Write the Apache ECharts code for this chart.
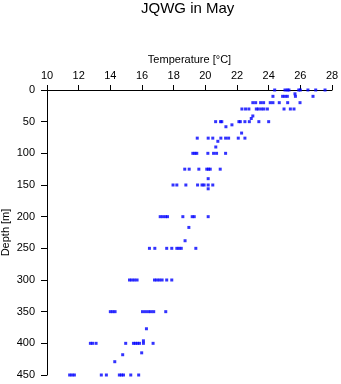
<!DOCTYPE html>
<html>
<head>
<meta charset="utf-8">
<script src="https://cdn.jsdelivr.net/npm/echarts@6/dist/echarts.min.js"></script>
<style>
  html, body { margin: 0; padding: 0; background: #fff; }
  #chart { width: 341px; height: 384px; }
</style>
</head>
<body>
<div id="chart"></div>
<script>
const chartTitle = 'JQWG in May';
const xAxisName = 'Temperature [°C]';
const yAxisName = 'Depth [m]';

// depth levels (m) and temperatures (°C) observed at each level
const depthLevels = [0, 6, 10, 20, 30, 41, 45, 50, 55, 58, 68, 76, 81, 90, 100, 125, 140, 150, 156, 200, 217, 238, 250, 300, 350, 377, 396, 400, 415, 418, 429, 450];
const tempsAtLevel = [
  [24.38, 25.03, 25.18, 25.28, 25.9, 26.0, 26.48, 26.97, 27.56],
  [25.66],
  [24.27, 24.88, 25.03, 25.18, 25.69, 26.8],
  [23.0, 23.18, 23.49, 23.68, 24.1, 24.27, 24.67, 25.2, 25.98],
  [22.31, 22.54, 22.75, 23.22, 23.35, 23.54, 23.7, 23.92, 24.97, 25.37, 25.6],
  [23.0],
  [22.9],
  [20.65, 20.96, 21.04, 22.12, 22.21, 22.5, 22.78, 23.38, 24.0],
  [21.68],
  [21.3],
  [22.29],
  [19.49, 20.18, 20.47, 20.98, 21.28, 21.47, 22.08, 22.5],
  [20.79],
  [20.66],
  [19.21, 19.34, 19.46, 20.16, 20.52, 20.71, 21.28],
  [18.7, 18.98, 19.59, 20.09, 20.2, 20.31, 20.94],
  [20.18],
  [17.96, 18.2, 18.77, 19.51, 19.79, 19.92, 20.18, 20.47],
  [20.18],
  [17.15, 17.31, 17.48, 17.61, 18.58, 19.17, 19.3, 20.18],
  [18.96],
  [18.72],
  [16.47, 16.81, 17.56, 17.88, 18.2, 18.34, 18.48, 19.4],
  [15.21, 15.36, 15.52, 15.69, 16.79, 16.94, 17.1, 17.27, 17.56, 17.88],
  [14.0, 14.15, 14.3, 16.03, 16.22, 16.41, 16.57, 16.74, 17.5],
  [16.28],
  [16.09],
  [12.74, 12.88, 13.1, 14.97, 15.46, 15.58, 15.71, 15.84, 16.09, 16.7],
  [15.98],
  [14.78],
  [14.28],
  [11.43, 11.58, 11.73, 13.43, 13.75, 14.57, 14.7, 14.83, 15.29, 15.79]
];
const xTicks = { min: 10, max: 28, step: 2 };
const yTicks = { min: 0, max: 450, step: 50 };

const points = [];
depthLevels.forEach((d, i) => {
  tempsAtLevel[i].forEach(t => points.push([t, d]));
});

const font = 'Liberation Sans, Arial, Helvetica, sans-serif';
const chart = echarts.init(document.getElementById('chart'), null, { renderer: 'canvas' });
chart.setOption({
  animation: false,
  backgroundColor: '#ffffff',
  title: {
    text: chartTitle,
    left: 141,
    top: 1,
    padding: 0,
    textStyle: { fontFamily: font, fontSize: 15, fontWeight: 'normal', color: '#000' }
  },
  grid: { left: 47, right: 9, top: 90, bottom: 9, containLabel: false, outerBoundsMode: 'none' },
  xAxis: {
    type: 'value',
    position: 'top',
    min: xTicks.min, max: xTicks.max, interval: xTicks.step,
    name: xAxisName,
    nameLocation: 'middle',
    nameGap: 25,
    nameTextStyle: { fontFamily: font, fontSize: 11, color: '#000' },
    axisLine: { show: true, onZero: false, lineStyle: { color: '#000', width: 1 } },
    axisTick: { show: true, inside: false, length: 5, lineStyle: { color: '#000' } },
    axisLabel: { fontFamily: font, fontSize: 11, color: '#000', margin: 9 },
    splitLine: { show: false }
  },
  yAxis: {
    type: 'value',
    inverse: true,
    min: yTicks.min, max: yTicks.max, interval: yTicks.step,
    name: yAxisName,
    nameLocation: 'middle',
    nameGap: 36,
    nameRotate: 90,
    nameMoveOverlap: false,
    nameTextStyle: { fontFamily: font, fontSize: 11, color: '#000' },
    axisLine: { show: true, onZero: false, lineStyle: { color: '#000', width: 1 } },
    axisTick: { show: true, inside: false, length: 6, lineStyle: { color: '#000' } },
    axisLabel: { fontFamily: font, fontSize: 11, color: '#000', margin: 12 },
    splitLine: { show: false }
  },
  series: [{
    type: 'scatter',
    data: points,
    symbol: 'rect',
    symbolSize: [3, 3],
    clip: false,
    itemStyle: { color: '#0000ff' }
  }]
});
</script>
</body>
</html>
